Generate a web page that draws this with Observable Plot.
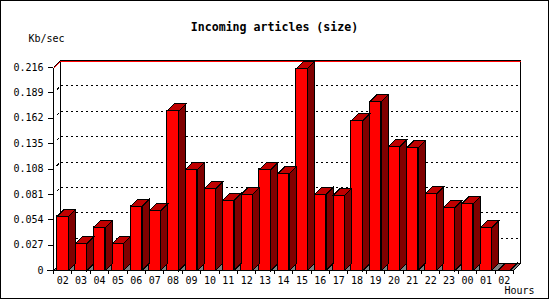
<!DOCTYPE html>
<html>
<head>
<meta charset="utf-8">
<script src="https://cdn.jsdelivr.net/npm/d3@7"></script>
<script src="https://cdn.jsdelivr.net/npm/@observablehq/plot@0.6"></script>
<style>
  html, body { margin: 0; padding: 0; background: white; }
  #wrap { position: relative; width: 550px; height: 300px; overflow: hidden; }
  #frame { position: absolute; left: 0; top: 0; width: 547px; height: 297px; border: 1px solid black; pointer-events: none; }
  svg { shape-rendering: crispEdges; }
  svg text { shape-rendering: auto; }
</style>
</head>
<body>
<div id="wrap"><div id="frame"></div></div>
<script>
const title = "Incoming articles (size)";
const yLabel = "Kb/sec";
const xLabel = "Hours";
const hours = ["02","03","04","05","06","07","08","09","10","11","12","13","14","15","16","17","18","19","20","21","22","23","00","01","02"];
const kbsec = [0.0575,0.0287,0.0458,0.0287,0.0681,0.0635,0.1699,0.1075,0.0869,0.0745,0.0809,0.1075,0.1032,0.2149,0.0809,0.0798,0.1596,0.1798,0.1316,0.1306,0.0816,0.0667,0.0710,0.0454,0.0005];
const yTicks = [0, 0.027, 0.054, 0.081, 0.108, 0.135, 0.162, 0.189, 0.216];

const rows = hours.map((h, i) => ({i, i1: i + 1, h, v: kbsec[i]}));
const DX = 7, DY = -7, INL = 3.5, INR = 3.4;
const FRONT = "#ff0000", TOP = "#c00000", SIDE = "#800000", FLOOR = "#808080";

function walls(index, {x, y}) {
  const g = d3.create("svg:g").attr("transform", "translate(0.5,0.5)");
  const x0 = x(0), x1 = x(hours.length), y0 = y(0), yt = y(yTicks[yTicks.length - 1]);
  g.append("path")
    .attr("d", `M${x0},${y0}L${x1},${y0}L${x1 + DX},${y0 + DY}L${x0 + DX},${y0 + DY}Z`)
    .attr("fill", FLOOR).attr("stroke", "black");
  for (const t of yTicks.slice(1, -1)) {
    const yy = y(t);
    g.append("line").attr("x1", x0 + DX).attr("x2", x1 + DX).attr("y1", yy + DY).attr("y2", yy + DY)
      .attr("stroke", "black").attr("stroke-dasharray", "2,3");
    g.append("line").attr("x1", x0).attr("x2", x0 + DX).attr("y1", yy).attr("y2", yy + DY)
      .attr("stroke", "black").attr("stroke-dasharray", "0,4.5,3,10");
  }
  g.append("line").attr("x1", x0 + DX).attr("x2", x0 + DX).attr("y1", yt + DY).attr("y2", y0 + DY).attr("stroke", "black");
  g.append("line").attr("x1", x1 + DX).attr("x2", x1 + DX).attr("y1", yt + DY).attr("y2", y0 + DY).attr("stroke", "black");
  g.append("path").attr("d", `M${x0},${yt + 1}L${x0 + DX},${yt + DY + 1}L${x1 + DX},${yt + DY + 1}`)
    .attr("fill", "none").attr("stroke", "#ff0000");
  g.append("path").attr("d", `M${x0},${yt}L${x0 + DX},${yt + DY}L${x1 + DX},${yt + DY}`)
    .attr("fill", "none").attr("stroke", "black");
  g.append("line").attr("x1", x0).attr("x2", x0).attr("y1", yt).attr("y2", y0).attr("stroke", "black");
  return g.node();
}

function faces(index, {x, y}) {
  const g = d3.create("svg:g").attr("transform", "translate(0.5,0.5)");
  const y0 = y(0);
  for (const d of rows) {
    const xl = x(d.i) + INL, xr = x(d.i1) - INR, yv = y(d.v);
    g.append("path")
      .attr("d", `M${xr},${yv}L${xr + DX},${yv + DY}L${xr + DX},${y0 + DY}L${xr},${y0}Z`)
      .attr("fill", SIDE).attr("stroke", "black");
    g.append("path")
      .attr("d", `M${xl},${yv}L${xl + DX},${yv + DY}L${xr + DX},${yv + DY}L${xr},${yv}Z`)
      .attr("fill", TOP).attr("stroke", "black");
  }
  return g.node();
}

const chart = Plot.plot({
  width: 550, height: 300,
  marginLeft: 53, marginRight: 37, marginTop: 67, marginBottom: 30,
  style: {fontFamily: "'DejaVu Sans Mono', monospace", fontSize: "10px", color: "black", background: "white", overflow: "visible"},
  x: {type: "linear", domain: [0, hours.length], axis: null},
  y: {domain: [0, yTicks[yTicks.length - 1]], axis: null},
  marks: [
    walls,
    Plot.rectY(rows, {x1: "i", x2: "i1", y: "v", insetLeft: INL, insetRight: INR, fill: FRONT, stroke: "black"}),
    faces,
    Plot.axisY(yTicks, {tickSize: 5, tickPadding: 5, tickFormat: d => d === 0 ? "0" : d3.format(".3f")(d), label: null, stroke: "black"}),
    Plot.axisX(d3.range(hours.length + 1), {tickSize: 4, tickFormat: () => "", label: null, stroke: "black"}),
    Plot.axisX(d3.range(hours.length).map(i => i + 0.5), {tickSize: 0, tickPadding: 6, tickFormat: d => hours[Math.floor(d)], label: null}),
    Plot.ruleY([0], {x1: -0.3, x2: hours.length, stroke: "black"}),
    Plot.text([title], {frameAnchor: "top", dx: -9, dy: -45, fontWeight: "bold", fontSize: 11.6, fill: "black"}),
    Plot.text([yLabel], {frameAnchor: "top-left", textAnchor: "start", dx: -25, dy: -33, fill: "black"}),
    Plot.text([xLabel], {frameAnchor: "bottom-right", textAnchor: "start", dx: -9, dy: 23, fill: "black"})
  ]
});
document.getElementById("wrap").prepend(chart);
</script>
</body>
</html>
